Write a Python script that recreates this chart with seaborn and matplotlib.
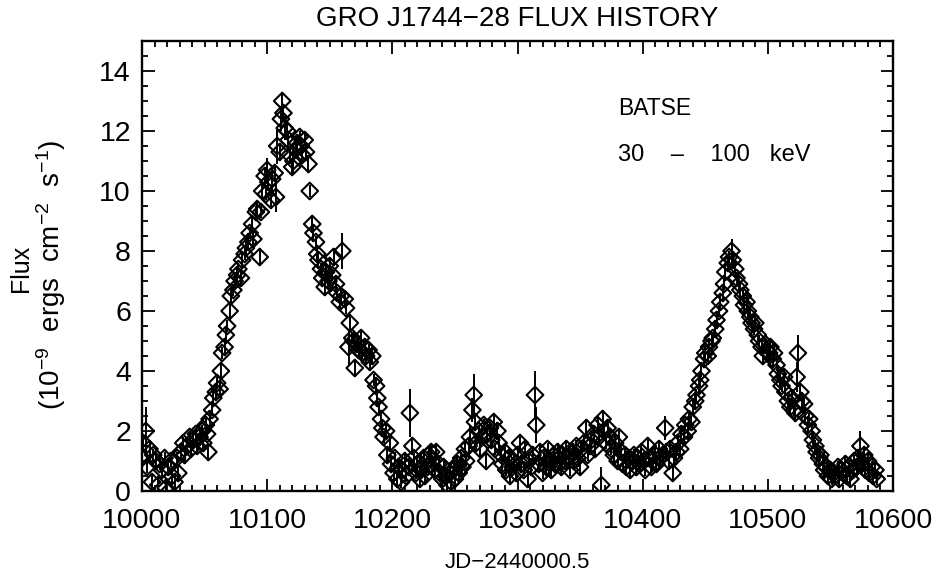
import matplotlib
matplotlib.use("Agg")
import matplotlib.pyplot as plt
from matplotlib.ticker import MultipleLocator
import pandas as pd
import seaborn as sns

# Daily BATSE 30-100 keV flux of GRO J1744-28 (units of 1e-9 erg cm^-2 s^-1)
days = [
    10000, 10001, 10003, 10004, 10006, 10008, 10009, 10011, 10013, 10014,
    10016, 10018, 10019, 10021, 10023, 10024, 10026, 10028, 10029, 10031,
    10033, 10034, 10036, 10038, 10039, 10041, 10043, 10044, 10046, 10048,
    10049, 10051, 10052, 10053, 10054, 10056, 10057, 10059, 10060, 10062,
    10063, 10064, 10066, 10067, 10068, 10070, 10071, 10073, 10074, 10076,
    10077, 10079, 10080, 10082, 10083, 10085, 10086, 10088, 10089, 10091,
    10092, 10094, 10095, 10096, 10098, 10099, 10100, 10101, 10103, 10104,
    10106, 10107, 10108, 10110, 10111, 10112, 10113, 10114, 10116, 10117,
    10118, 10120, 10121, 10123, 10124, 10126, 10127, 10128, 10130, 10131,
    10133, 10134, 10136, 10137, 10139, 10140, 10141, 10143, 10144, 10146,
    10147, 10149, 10150, 10152, 10153, 10155, 10156, 10158, 10159, 10160,
    10162, 10163, 10165, 10166, 10168, 10169, 10170, 10172, 10173, 10175,
    10176, 10178, 10179, 10181, 10182, 10184, 10185, 10187, 10188, 10189,
    10191, 10192, 10193, 10195, 10196, 10198, 10199, 10201, 10202, 10204,
    10205, 10207, 10208, 10210, 10211, 10213, 10214, 10216, 10217, 10219,
    10220, 10222, 10223, 10225, 10226, 10228, 10229, 10231, 10232, 10234,
    10235, 10237, 10238, 10240, 10241, 10243, 10244, 10246, 10247, 10249,
    10250, 10252, 10253, 10255, 10256, 10258, 10259, 10261, 10262, 10264,
    10265, 10266, 10267, 10269, 10270, 10272, 10273, 10275, 10276, 10278,
    10279, 10281, 10282, 10284, 10285, 10287, 10288, 10290, 10291, 10293,
    10294, 10296, 10297, 10299, 10300, 10302, 10303, 10305, 10306, 10308,
    10309, 10311, 10312, 10314, 10315, 10317, 10318, 10320, 10321, 10323,
    10324, 10326, 10327, 10329, 10330, 10332, 10333, 10335, 10336, 10338,
    10339, 10341, 10342, 10344, 10345, 10347, 10348, 10350, 10351, 10353,
    10355, 10356, 10358, 10359, 10361, 10362, 10364, 10365, 10367, 10368,
    10369, 10371, 10372, 10374, 10375, 10377, 10378, 10380, 10381, 10383,
    10384, 10386, 10387, 10389, 10390, 10392, 10393, 10395, 10396, 10398,
    10399, 10401, 10402, 10404, 10405, 10407, 10408, 10410, 10411, 10413,
    10414, 10416, 10418, 10419, 10421, 10422, 10424, 10425, 10427, 10428,
    10430, 10431, 10433, 10434, 10436, 10437, 10439, 10440, 10442, 10443,
    10445, 10446, 10447, 10449, 10450, 10452, 10453, 10455, 10456, 10458,
    10459, 10461, 10462, 10464, 10465, 10466, 10468, 10469, 10471, 10472,
    10474, 10475, 10477, 10478, 10480, 10481, 10483, 10484, 10486, 10487,
    10489, 10490, 10492, 10493, 10495, 10496, 10498, 10499, 10501, 10502,
    10504, 10505, 10507, 10508, 10510, 10511, 10513, 10514, 10516, 10518,
    10519, 10521, 10522, 10523, 10524, 10526, 10527, 10529, 10530, 10532,
    10533, 10535, 10536, 10538, 10539, 10541, 10542, 10544, 10545, 10547,
    10548, 10550, 10551, 10553, 10554, 10556, 10557, 10559, 10560, 10562,
    10563, 10565, 10566, 10568, 10569, 10571, 10572, 10574, 10575, 10577,
    10578, 10580, 10581, 10583, 10584, 10586, 10587,
]

flux = [
    1.1, 1.6, 2.0, 0.8, 1.4, 0.3, 1.2, 1.0, 0.2, 0.9,
    0.7, 1.1, 0.1, 0.8, 1.0, 0.5, 0.3, 1.1, 0.6, 1.3,
    1.6, 1.2, 1.5, 1.8, 1.4, 1.7, 1.9, 1.5, 1.8, 2.0,
    1.6, 2.2, 1.9, 1.3, 2.4, 2.7, 3.1, 3.3, 3.6, 3.4,
    4.0, 4.6, 4.8, 5.2, 5.5, 6.0, 6.5, 6.7, 7.0, 7.2,
    7.4, 7.1, 7.7, 7.9, 8.1, 8.3, 8.6, 8.9, 8.4, 9.3,
    9.4, 7.8, 9.3, 10.0, 10.5, 9.9, 10.7, 10.3, 9.7, 10.4,
    10.6, 9.8, 11.5, 11.3, 12.4, 13.0, 12.6, 12.1, 12.0, 11.7,
    11.2, 10.8, 11.0, 11.4, 11.6, 11.8, 11.5, 11.2, 11.7, 11.3,
    10.9, 10.0, 8.9, 8.6, 8.3, 7.9, 7.7, 7.4, 7.1, 6.8,
    7.3, 7.0, 7.5, 7.2, 7.8, 6.9, 6.6, 6.3, 6.5, 8.0,
    6.4, 6.1, 4.8, 5.6, 5.1, 5.0, 4.1, 4.9, 4.7, 5.1,
    4.6, 4.8, 4.5, 4.7, 4.3, 4.5, 3.7, 3.5, 3.1, 2.8,
    2.4, 2.1, 1.8, 2.0, 1.2, 1.6, 0.9, 0.6, 1.1, 0.4,
    0.8, 0.3, 0.7, 1.0, 0.5, 0.8, 2.6, 1.5, 1.1, 0.6,
    0.9, 0.4, 0.7, 1.1, 0.5, 0.8, 1.2, 1.3, 1.0, 0.7,
    1.3, 0.9, 0.6, 0.4, 0.8, 0.5, 0.2, 0.6, 0.3, 0.7,
    0.4, 0.9, 0.6, 1.1, 0.8, 1.4, 1.0, 1.5, 1.8, 2.7,
    3.2, 2.3, 1.6, 2.0, 1.4, 1.8, 2.2, 1.0, 1.9, 2.1,
    1.7, 2.3, 1.4, 2.0, 1.6, 1.2, 0.9, 1.3, 0.7, 1.1,
    0.5, 0.8, 1.0, 0.6, 1.2, 1.6, 0.9, 0.7, 1.4, 0.4,
    1.0, 0.8, 1.2, 3.2, 2.2, 0.9, 1.3, 0.6, 1.1, 0.8,
    1.4, 1.0, 0.7, 1.2, 0.9, 1.3, 1.1, 0.8, 1.2, 1.0,
    1.4, 1.1, 0.7, 1.3, 1.0, 1.5, 1.1, 0.8, 1.4, 1.6,
    2.1, 1.2, 1.5, 1.7, 1.9, 1.4, 2.2, 1.8, 0.2, 2.4,
    2.0, 1.6, 2.1, 1.8, 1.4, 1.2, 1.6, 1.0, 1.8, 1.3,
    0.9, 1.2, 0.8, 1.1, 0.7, 1.0, 1.2, 0.8, 1.1, 0.9,
    1.3, 1.0, 0.7, 1.5, 1.1, 0.8, 1.0, 1.2, 0.9, 1.4,
    1.1, 1.2, 2.1, 1.3, 1.0, 1.4, 0.6, 1.1, 1.3, 1.6,
    1.4, 1.9, 1.8, 2.2, 2.0, 2.4, 2.3, 2.8, 3.0, 3.2,
    3.5, 3.7, 4.0, 4.4, 4.6, 4.5, 4.8, 5.0, 5.1, 5.4,
    5.7, 6.0, 6.3, 6.6, 6.9, 7.3, 7.6, 7.8, 8.0, 7.7,
    7.4, 7.1, 6.9, 6.7, 6.5, 6.2, 6.3, 6.0, 5.8, 5.6,
    5.4, 5.6, 5.2, 5.0, 4.8, 4.5, 4.9, 4.7, 4.6, 4.8,
    4.4, 4.6, 4.2, 3.9, 3.7, 3.5, 3.8, 3.3, 3.0, 2.8,
    3.1, 2.7, 2.6, 3.8, 4.6, 3.3, 3.0, 2.9, 2.5, 2.2,
    2.4, 2.0, 1.7, 1.5, 1.3, 1.1, 1.2, 0.9, 0.7, 0.8,
    0.5, 0.7, 0.4, 0.6, 0.5, 0.8, 0.4, 0.7, 0.6, 0.9,
    0.5, 0.8, 0.4, 0.7, 1.0, 0.8, 1.1, 1.5, 0.9, 1.2,
    0.7, 1.0, 0.6, 0.8, 0.5, 0.7, 0.4,
]

flux_err = [
    0.3, 0.3, 0.8, 0.2, 0.3, 0.3, 0.2, 0.3, 0.3, 0.2,
    0.3, 0.2, 0.3, 0.3, 0.2, 0.3, 0.3, 0.2, 0.3, 0.3,
    0.2, 0.3, 0.3, 0.2, 0.3, 0.3, 0.2, 0.3, 0.3, 0.2,
    0.3, 0.3, 0.2, 0.3, 0.3, 0.2, 0.3, 0.3, 0.2, 0.3,
    0.3, 0.2, 0.3, 0.3, 0.2, 0.3, 0.3, 0.2, 0.3, 0.3,
    0.2, 0.3, 0.3, 0.2, 0.3, 0.3, 0.2, 0.3, 0.3, 0.2,
    0.3, 0.3, 0.2, 0.3, 0.3, 0.2, 0.4, 0.3, 0.3, 0.4,
    0.3, 0.5, 0.6, 0.3, 0.4, 0.3, 0.3, 0.4, 0.3, 0.3,
    0.3, 0.3, 0.4, 0.3, 0.3, 0.2, 0.3, 0.3, 0.2, 0.3,
    0.3, 0.2, 0.3, 0.3, 0.2, 0.3, 0.3, 0.2, 0.3, 0.3,
    0.2, 0.3, 0.3, 0.2, 0.3, 0.3, 0.2, 0.3, 0.3, 0.6,
    0.3, 0.2, 0.6, 0.3, 0.2, 0.3, 0.3, 0.2, 0.3, 0.3,
    0.2, 0.3, 0.3, 0.2, 0.3, 0.3, 0.2, 0.3, 0.3, 0.2,
    0.3, 0.3, 0.2, 0.3, 0.3, 0.2, 0.3, 0.3, 0.2, 0.3,
    0.3, 0.2, 0.3, 0.3, 0.2, 0.3, 0.8, 0.3, 0.3, 0.2,
    0.3, 0.3, 0.2, 0.3, 0.3, 0.2, 0.3, 0.3, 0.2, 0.3,
    0.3, 0.2, 0.3, 0.3, 0.2, 0.3, 0.3, 0.2, 0.3, 0.3,
    0.2, 0.3, 0.3, 0.2, 0.3, 0.3, 0.2, 0.3, 0.4, 0.4,
    0.7, 0.3, 0.3, 0.2, 0.3, 0.3, 0.2, 0.3, 0.3, 0.2,
    0.3, 0.3, 0.2, 0.3, 0.3, 0.2, 0.3, 0.3, 0.2, 0.3,
    0.3, 0.2, 0.3, 0.3, 0.2, 0.3, 0.3, 0.2, 0.3, 0.3,
    0.2, 0.3, 0.3, 0.8, 0.6, 0.3, 0.3, 0.2, 0.3, 0.3,
    0.2, 0.3, 0.3, 0.2, 0.3, 0.3, 0.2, 0.3, 0.3, 0.2,
    0.3, 0.3, 0.2, 0.3, 0.3, 0.2, 0.3, 0.3, 0.2, 0.3,
    0.3, 0.2, 0.3, 0.3, 0.2, 0.3, 0.3, 0.2, 0.6, 0.3,
    0.3, 0.2, 0.3, 0.3, 0.2, 0.3, 0.3, 0.2, 0.3, 0.3,
    0.2, 0.3, 0.3, 0.2, 0.3, 0.3, 0.2, 0.3, 0.3, 0.2,
    0.3, 0.3, 0.2, 0.3, 0.3, 0.2, 0.3, 0.3, 0.2, 0.3,
    0.3, 0.2, 0.4, 0.3, 0.2, 0.3, 0.3, 0.2, 0.3, 0.3,
    0.2, 0.3, 0.3, 0.2, 0.3, 0.3, 0.2, 0.3, 0.3, 0.2,
    0.3, 0.3, 0.2, 0.3, 0.3, 0.2, 0.3, 0.3, 0.2, 0.3,
    0.3, 0.2, 0.3, 0.3, 0.2, 0.3, 0.3, 0.2, 0.4, 0.3,
    0.3, 0.2, 0.3, 0.3, 0.2, 0.3, 0.3, 0.2, 0.3, 0.3,
    0.2, 0.3, 0.3, 0.2, 0.3, 0.3, 0.2, 0.3, 0.3, 0.2,
    0.3, 0.3, 0.2, 0.3, 0.3, 0.2, 0.3, 0.3, 0.2, 0.3,
    0.3, 0.2, 0.3, 0.5, 0.6, 0.3, 0.3, 0.2, 0.3, 0.3,
    0.2, 0.3, 0.3, 0.2, 0.3, 0.3, 0.2, 0.3, 0.3, 0.2,
    0.3, 0.3, 0.2, 0.3, 0.3, 0.2, 0.3, 0.3, 0.2, 0.3,
    0.3, 0.2, 0.3, 0.3, 0.2, 0.3, 0.3, 0.5, 0.3, 0.3,
    0.2, 0.3, 0.3, 0.2, 0.3, 0.3, 0.2,
]

x_ticks = [10000, 10100, 10200, 10300, 10400, 10500, 10600]
y_ticks = [0, 2, 4, 6, 8, 10, 12, 14]

sns.set_style("ticks")
plt.rcParams["font.family"] = ["Liberation Sans", "DejaVu Sans"]
plt.rcParams["mathtext.fontset"] = "custom"
plt.rcParams["mathtext.rm"] = "Liberation Sans"
plt.rcParams["mathtext.it"] = "Liberation Sans:italic"
plt.rcParams["mathtext.bf"] = "Liberation Sans:bold"
for key in ("text.color", "axes.labelcolor", "xtick.color", "ytick.color",
            "axes.edgecolor"):
    plt.rcParams[key] = "black"

df = pd.DataFrame({"day": days, "flux": flux, "err": flux_err})

W, H = 940, 575
fig = plt.figure(figsize=(W / 100, H / 100), dpi=100)
fig.patch.set_facecolor("white")
ax = fig.add_axes([142 / W, 1 - 491 / H, (893 - 142) / W, (491 - 41) / H])
ax.set_facecolor("white")

# error bars first, hollow diamonds on top
ax.errorbar(df["day"], df["flux"], yerr=df["err"], fmt="none",
            ecolor="black", elinewidth=1.4, capsize=0, zorder=2)
sns.scatterplot(data=df, x="day", y="flux", marker="D", s=72,
                facecolor="none", edgecolor="black", linewidth=1.5,
                legend=False, ax=ax, zorder=3)

ax.set_xlim(10000, 10600)
ax.set_ylim(0, 15)
ax.set_xticks(x_ticks)
ax.set_xticklabels([str(t) for t in x_ticks])
ax.set_yticks(y_ticks)
ax.set_yticklabels([str(t) for t in y_ticks])
ax.xaxis.set_minor_locator(MultipleLocator(10))
ax.yaxis.set_minor_locator(MultipleLocator(0.5))
ax.tick_params(which="both", direction="in", top=True, right=True,
               width=1.3, color="black", labelcolor="black")
ax.tick_params(which="major", length=9, labelsize=20.5)
ax.tick_params(which="minor", length=4.5)
ax.tick_params(axis="x", which="major", pad=12)
ax.tick_params(axis="y", which="major", pad=8)
for sp in ax.spines.values():
    sp.set_linewidth(1.7)
    sp.set_color("black")

ax.set_xlabel("")
ax.set_ylabel("")
ax.set_title("GRO J1744\u221228 FLUX HISTORY", fontsize=20, pad=11,
             color="black")

fig.text(517 / W, 1 - 563 / H, "JD\u22122440000.5", fontsize=16,
         ha="center", va="center")
fig.text(21 / W, 1 - 268 / H, "Flux", fontsize=18, rotation=90,
         ha="center", va="center")
fig.text(51 / W, 1 - 275 / H,
         r"(10$^{-9}$  ergs  cm$^{-2}$  s$^{-1}$)", fontsize=20,
         rotation=90, ha="center", va="center")

fig.text(618 / W, 1 - 115 / H, "BATSE", fontsize=16.5, ha="left",
         va="baseline")
fig.text(618 / W, 1 - 161 / H, "30    \u2013    100   keV", fontsize=17,
         ha="left", va="baseline")

fig.savefig("out.png", dpi=100, facecolor="white")
